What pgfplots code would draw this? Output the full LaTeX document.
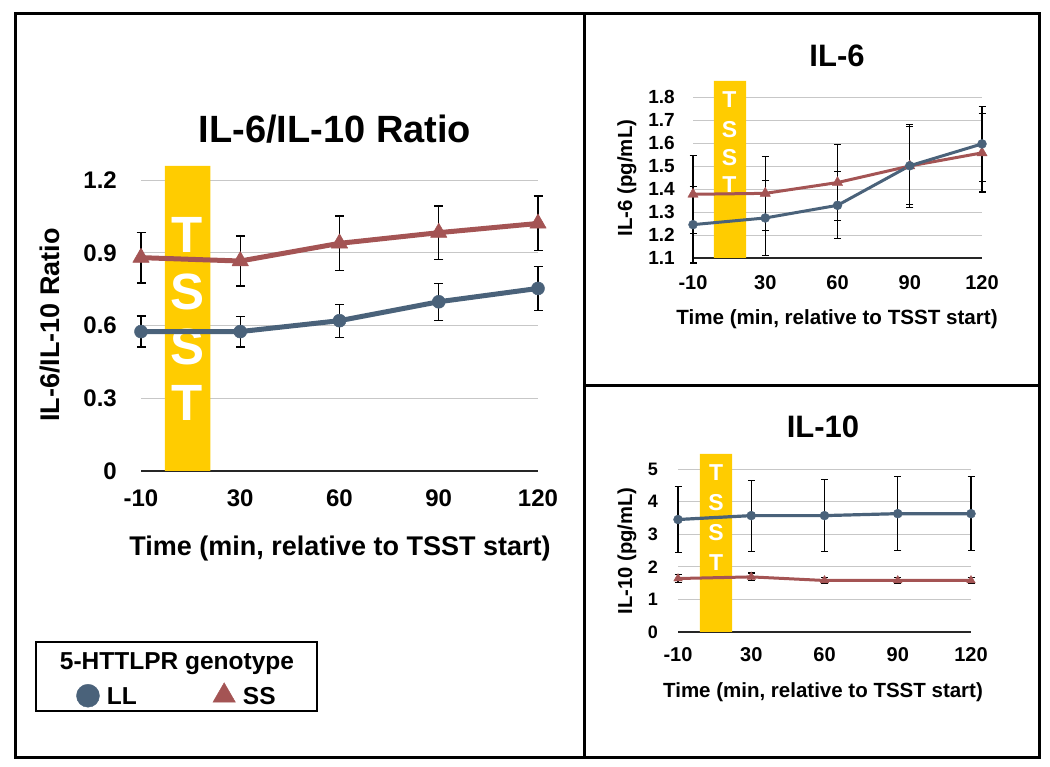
\documentclass[border=0pt]{standalone}
\usepackage{fontspec}
\setmainfont{Liberation Sans}
\usepackage{pgfplots}
\pgfplotsset{compat=1.18}
\definecolor{LL}{RGB}{74,98,122}
\definecolor{SS}{RGB}{164,84,84}
\definecolor{tsst}{RGB}{255,204,0}
\newcommand{\fs}[1]{\fontsize{#1}{#1}\selectfont\bfseries}
\pgfplotsset{
  panel/.style={scale only axis, anchor=south west, clip=false,
    xmin=0, xmax=4, xtick={0,1,2,3,4}, xticklabels={-10,30,60,90,120},
    axis x line*=bottom, axis y line*=left,
    y axis line style={draw=none}, x axis line style={black!85, line width=1.6pt},
    major tick length=0pt, ymajorgrids, grid style={black!22, line width=0.9pt},
    xticklabel style={anchor=north, inner sep=0pt},
    yticklabel style={anchor=east, inner sep=0pt}},
  ebar/.style 2 args={error bars/.cd, y dir=both, y explicit,
    error bar style={black, line width=#1},
    error mark options={black, rotate=90, mark size=#2, line width=#1}},
}
\begin{document}
\begin{tikzpicture}[x=1pt,y=1pt]
\useasboundingbox (0,0) rectangle (1050,767);
% ---------------- left panel ----------------
\begin{axis}[panel, at={(141pt,296pt)}, width=397pt, height=305pt,
  ymin=0, ymax=1.258, ytick={0,0.3,0.6,0.9,1.2}, yticklabels={0,0.3,0.6,0.9,1.2},
  xticklabel style={font={\fs{24}}, yshift=-19pt},
  yticklabel style={font={\fs{24}}, xshift=-24pt},
  legend columns=2,
  legend style={draw=none, fill=none, inner sep=0pt, outer sep=0pt,
    at={(-0.1625,-0.7344)}, anchor=west, font={\fs{24.5}},
    nodes={inner sep=0pt, text depth=0pt},
    /tikz/every odd column/.append style={column sep=7.5pt},
    /tikz/every even column/.append style={column sep=76pt}}]
\addplot[draw=none, fill=tsst, forget plot] coordinates {(0.24,0) (0.24,1.258) (0.70,1.258) (0.70,0)} \closedcycle;
\node[white, font={\fs{51}}] at (axis cs:0.465,0.973) {T};
\node[white, font={\fs{51}}] at (axis cs:0.465,0.738) {S};
\node[white, font={\fs{51}}] at (axis cs:0.465,0.511) {S};
\node[white, font={\fs{51}}] at (axis cs:0.465,0.280) {T};
\addplot[LL, line width=5pt, line join=round, mark=*, mark size=6.5pt, mark options={LL, solid, line width=0.5pt}, forget plot, ebar={1.3pt}{4.5pt}]
  coordinates {(0,0.575) +- (0,0.064) (1,0.575) +- (0,0.063) (2,0.620) +- (0,0.068) (3,0.698) +- (0,0.076) (4,0.753) +- (0,0.091)};
\addplot[SS, line width=5pt, line join=round, mark=triangle*, mark size=9.5pt, mark options={SS, solid, line width=0.5pt}, forget plot, ebar={1.3pt}{4.5pt}]
  coordinates {(0,0.880) +- (0,0.105) (1,0.866) +- (0,0.103) (2,0.939) +- (0,0.113) (3,0.983) +- (0,0.110) (4,1.021) +- (0,0.113)};
\addlegendimage{only marks, mark=*, mark size=11.5pt, color=LL}
\addlegendentry{LL}
\addlegendimage{only marks, mark=triangle*, mark size=13pt, color=SS}
\addlegendentry{SS}
\end{axis}
% ---------------- IL-6 panel ----------------
\begin{axis}[panel, at={(693pt,509pt)}, width=289pt, height=177pt,
  ymin=1.1, ymax=1.8696, ytick={1.1,1.2,1.3,1.4,1.5,1.6,1.7,1.8},
  yticklabels={1.1,1.2,1.3,1.4,1.5,1.6,1.7,1.8},
  xticklabel style={font={\fs{20}}, yshift=-17pt},
  yticklabel style={font={\fs{19}}, xshift=-18pt}]
\addplot[draw=none, fill=tsst] coordinates {(0.29,1.1) (0.29,1.8696) (0.735,1.8696) (0.735,1.1)} \closedcycle;
\node[white, font={\fs{23}}] at (axis cs:0.505,1.787) {T};
\node[white, font={\fs{23}}] at (axis cs:0.505,1.657) {S};
\node[white, font={\fs{23}}] at (axis cs:0.505,1.535) {S};
\node[white, font={\fs{23}}] at (axis cs:0.505,1.417) {T};
\addplot[SS, line width=3pt, line join=round, mark=triangle*, mark size=6pt, mark options={SS, solid, line width=0.4pt}, ebar={1.1pt}{3.5pt}]
  coordinates {(0,1.377) +- (0,0.17) (1,1.381) +- (0,0.16) (2,1.428) +- (0,0.166) (3,1.500) +- (0,0.18) (4,1.557) +- (0,0.17)};
\addplot[LL, line width=3pt, line join=round, mark=*, mark size=4.5pt, mark options={LL, solid, line width=0.4pt}, ebar={1.1pt}{3.5pt}]
  coordinates {(0,1.245) +- (0,0.167) (1,1.274) +- (0,0.164) (2,1.329) +- (0,0.146) (3,1.501) +- (0,0.17) (4,1.596) +- (0,0.163)};
\end{axis}
% ---------------- IL-10 panel ----------------
\begin{axis}[panel, at={(678pt,135pt)}, width=293pt, height=178pt,
  ymin=0, ymax=5.46, ytick={0,1,2,3,4,5}, yticklabels={0,1,2,3,4,5},
  xticklabel style={font={\fs{20}}, yshift=-15pt},
  yticklabel style={font={\fs{18}}, xshift=-20pt}]
\addplot[draw=none, fill=tsst] coordinates {(0.30,0) (0.30,5.46) (0.74,5.46) (0.74,0)} \closedcycle;
\node[white, font={\fs{23}}] at (axis cs:0.52,4.877) {T};
\node[white, font={\fs{23}}] at (axis cs:0.52,3.957) {S};
\node[white, font={\fs{23}}] at (axis cs:0.52,3.037) {S};
\node[white, font={\fs{23}}] at (axis cs:0.52,2.117) {T};
\addplot[LL, line width=3.2pt, line join=round, mark=*, mark size=4.5pt, mark options={LL, solid, line width=0.4pt}, ebar={1.1pt}{3.5pt}]
  coordinates {(0,3.45) +- (0,1.02) (1,3.57) +- (0,1.09) (2,3.57) +- (0,1.10) (3,3.63) +- (0,1.14) (4,3.63) +- (0,1.13)};
\addplot[SS, line width=3pt, line join=round, mark=triangle*, mark size=5pt, mark options={SS, solid, line width=0.4pt}, ebar={1.1pt}{3.5pt}]
  coordinates {(0,1.64) +- (0,0.12) (1,1.69) +- (0,0.12) (2,1.58) +- (0,0.10) (3,1.58) +- (0,0.10) (4,1.58) +- (0,0.10)};
\end{axis}
% ---------------- titles and labels ----------------
\node[anchor=base, font={\fs{38}}] at (335,624) {IL-6/IL-10 Ratio};
\node[anchor=base, rotate=90, font={\fs{27}}] at (59,442) {IL-6/IL-10 Ratio};
\node[anchor=base, font={\fs{27}}] at (340,211) {Time (min, relative to TSST start)};
\node[anchor=base, font={\fs{31}}] at (837,700.3) {IL-6};
\node[anchor=base, rotate=90, font={\fs{20.4}}] at (632,589) {IL-6 (pg/mL)};
\node[anchor=base, font={\fs{20.6}}] at (837,442.3) {Time (min, relative to TSST start)};
\node[anchor=base, font={\fs{31}}] at (823,329) {IL-10};
\node[anchor=base, rotate=90, font={\fs{20.2}}] at (632,216) {IL-10 (pg/mL)};
\node[anchor=base, font={\fs{20.5}}] at (823,69) {Time (min, relative to TSST start)};
% legend box
\draw[line width=2pt] (36,125) rectangle (317,56);
\node[anchor=base, font={\fs{24.5}}] at (177,97) {5-HTTLPR genotype};
% frames
\draw[line width=3pt] (15,753) rectangle (1039,9);
\draw[line width=3pt] (584,753) -- (584,9);
\draw[line width=3pt] (584,381) -- (1039,381);
\end{tikzpicture}
\end{document}
